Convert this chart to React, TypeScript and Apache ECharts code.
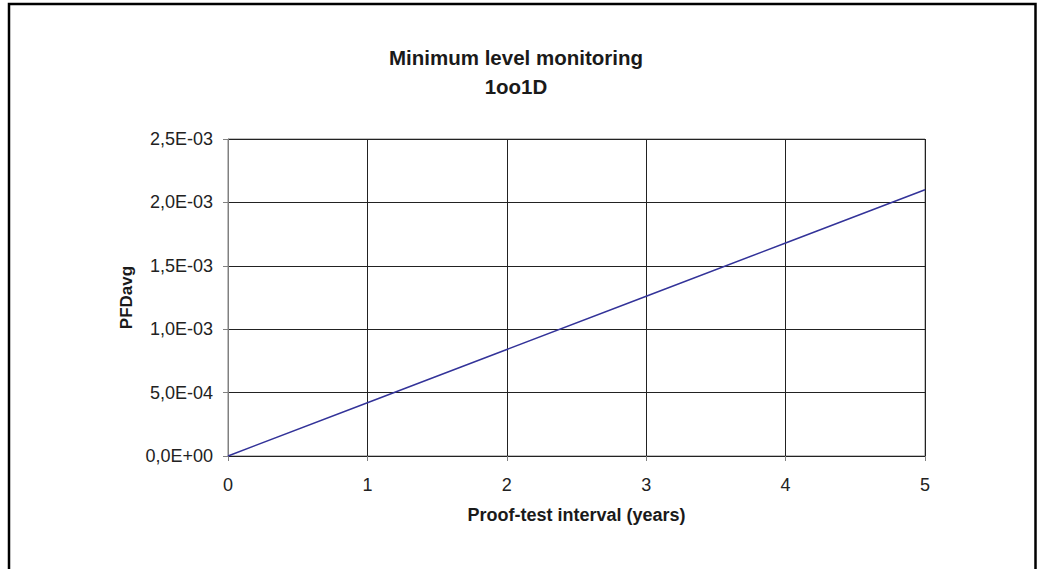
import React, { useEffect, useRef } from "react";
import * as echarts from "echarts";

const titleLines = ["Minimum level monitoring", "1oo1D"];
const xAxisName = "Proof-test interval (years)";
const yAxisName = "PFDavg";
const proofTestYears = [0, 1, 2, 3, 4, 5];
const pfdAvg = [0, 4.2e-4, 8.4e-4, 1.26e-3, 1.68e-3, 2.1e-3];
const yMin = 0;
const yMax = 2.5e-3;
const yStep = 5e-4;
const xMin = 0;
const xMax = 5;
const xStep = 1;

const FONT = "'Liberation Sans', Arial, Helvetica, sans-serif";

function fmtSci(v: number): string {
  const [m, e] = v.toExponential(1).split("e");
  const sign = e[0] === "-" ? "-" : "+";
  const digits = e.replace(/^[+-]/, "").padStart(2, "0");
  return m.replace(".", ",") + "E" + sign + digits;
}

export default function App() {
  const ref = useRef<HTMLDivElement>(null);
  useEffect(() => {
    if (!ref.current) return;
    const chart = echarts.init(ref.current, undefined, { renderer: "svg" });
    chart.setOption({
      animation: false,
      backgroundColor: "#ffffff",
      textStyle: { fontFamily: FONT },
      title: {
        text: titleLines.join("\n"),
        left: 511,
        top: 38,
        textAlign: "center",
        textStyle: {
          fontFamily: FONT,
          fontSize: 20.5,
          fontWeight: "bold",
          color: "#1a1a1a",
          lineHeight: 29,
        },
      },
      graphic: [
        {
          type: "rect",
          shape: { x: 9, y: 4, width: 1026.5, height: 620 },
          style: { fill: "none", stroke: "#000", lineWidth: 2.5 },
          silent: true,
        },
      ],
      grid: { left: 228, top: 139, right: 117, bottom: 113, show: true, borderColor: "#808080", borderWidth: 1 },
      xAxis: {
        type: "value",
        min: xMin,
        max: xMax,
        interval: xStep,
        name: xAxisName,
        nameLocation: "middle",
        nameGap: 50,
        nameTextStyle: { fontFamily: FONT, fontSize: 18, fontWeight: "bold", color: "#1a1a1a" },
        axisLine: { show: true, lineStyle: { color: "#222", width: 1 } },
        axisTick: { show: true, length: 5, lineStyle: { color: "#808080" } },
        axisLabel: { fontFamily: FONT, fontSize: 18, color: "#222", margin: 20 },
        splitLine: { show: true, lineStyle: { color: "#222", width: 1 } },
      },
      yAxis: {
        type: "value",
        min: yMin,
        max: yMax,
        interval: yStep,
        name: yAxisName,
        nameLocation: "middle",
        nameGap: 90,
        nameRotate: 90,
        nameTextStyle: { fontFamily: FONT, fontSize: 17, fontWeight: "bold", color: "#1a1a1a" },
        axisLine: { show: true, lineStyle: { color: "#808080", width: 1 } },
        axisTick: { show: true, length: 5, lineStyle: { color: "#808080" } },
        axisLabel: { fontFamily: FONT, fontSize: 18, color: "#222", margin: 15, formatter: (v: number) => fmtSci(v) },
        splitLine: { show: true, lineStyle: { color: "#222", width: 1 } },
      },
      series: [
        {
          type: "line",
          data: proofTestYears.map((x, i) => [x, pfdAvg[i]]),
          showSymbol: false,
          symbol: "none",
          lineStyle: { color: "#333399", width: 1.5 },
        },
      ],
    });
    return () => chart.dispose();
  }, []);
  return (
    <div
      ref={ref}
      style={{ position: "fixed", left: 0, top: 0, width: 1042, height: 569 }}
    />
  );
}
